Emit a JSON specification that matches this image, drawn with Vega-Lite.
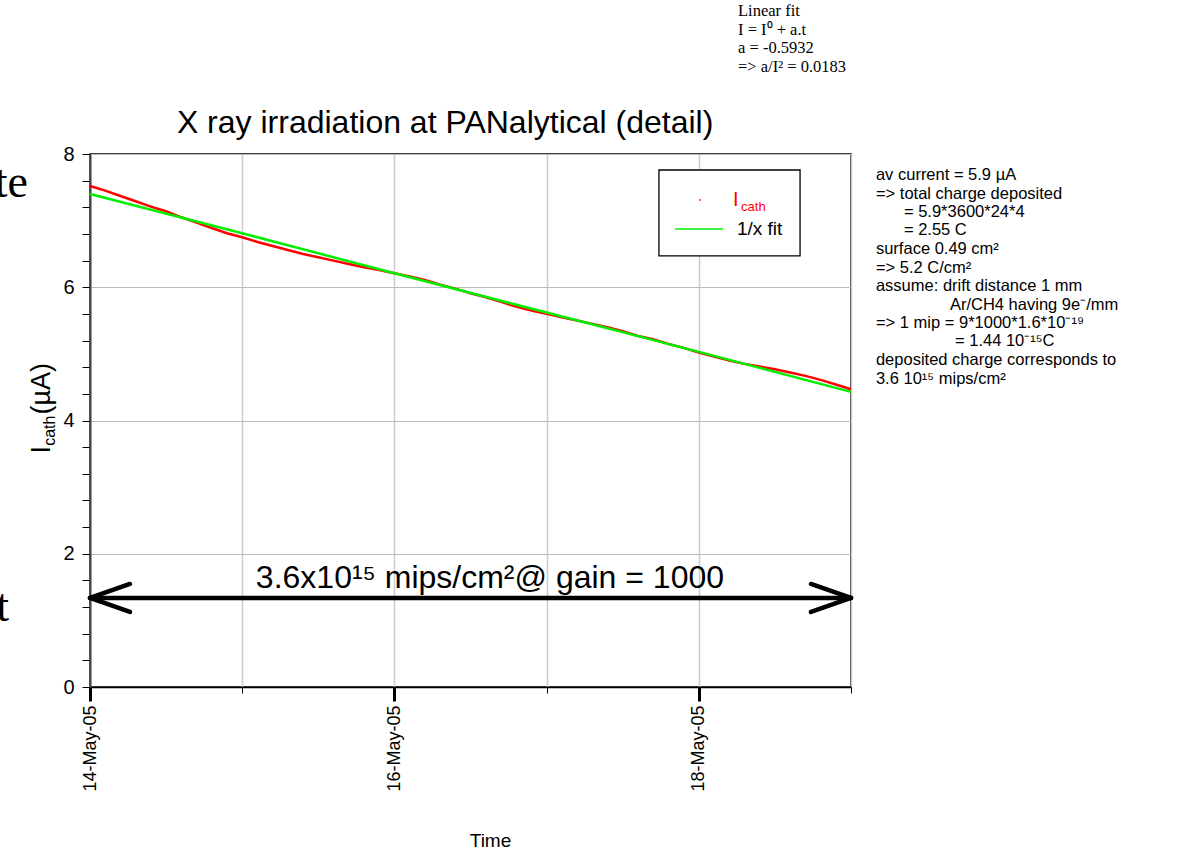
{
  "$schema": "https://vega.github.io/schema/vega-lite/v6.json",
  "width": 761,
  "height": 533,
  "autosize": {"type": "none"},
  "padding": {"left": 90, "top": 154, "right": 348, "bottom": 179},
  "background": "white",
  "config": {"view": {"stroke": "#000000", "strokeWidth": 1.5}, "font": "Liberation Sans"},
  "layer": [
    {
      "data": {"values": [
        {"time": "2005-05-14T00:00", "v": 7.52}, {"time": "2005-05-14T02:24", "v": 7.45}, {"time": "2005-05-14T04:48", "v": 7.37},
        {"time": "2005-05-14T07:12", "v": 7.29}, {"time": "2005-05-14T09:36", "v": 7.21}, {"time": "2005-05-14T12:00", "v": 7.14},
        {"time": "2005-05-14T14:24", "v": 7.05}, {"time": "2005-05-14T16:48", "v": 6.97}, {"time": "2005-05-14T19:12", "v": 6.89},
        {"time": "2005-05-14T21:36", "v": 6.81}, {"time": "2005-05-15T00:00", "v": 6.75}, {"time": "2005-05-15T02:24", "v": 6.68},
        {"time": "2005-05-15T04:48", "v": 6.62}, {"time": "2005-05-15T07:12", "v": 6.56}, {"time": "2005-05-15T09:36", "v": 6.50},
        {"time": "2005-05-15T12:00", "v": 6.45}, {"time": "2005-05-15T14:24", "v": 6.40}, {"time": "2005-05-15T16:48", "v": 6.35},
        {"time": "2005-05-15T19:12", "v": 6.30}, {"time": "2005-05-15T21:36", "v": 6.26}, {"time": "2005-05-16T00:00", "v": 6.21},
        {"time": "2005-05-16T02:24", "v": 6.16}, {"time": "2005-05-16T04:48", "v": 6.11}, {"time": "2005-05-16T07:12", "v": 6.04},
        {"time": "2005-05-16T09:36", "v": 5.98}, {"time": "2005-05-16T12:00", "v": 5.91}, {"time": "2005-05-16T14:24", "v": 5.85},
        {"time": "2005-05-16T16:48", "v": 5.78}, {"time": "2005-05-16T19:12", "v": 5.71}, {"time": "2005-05-16T21:36", "v": 5.65},
        {"time": "2005-05-17T00:00", "v": 5.60}, {"time": "2005-05-17T02:24", "v": 5.55}, {"time": "2005-05-17T04:48", "v": 5.50},
        {"time": "2005-05-17T07:12", "v": 5.45}, {"time": "2005-05-17T09:36", "v": 5.40}, {"time": "2005-05-17T12:00", "v": 5.34},
        {"time": "2005-05-17T14:24", "v": 5.27}, {"time": "2005-05-17T16:48", "v": 5.22}, {"time": "2005-05-17T19:12", "v": 5.15},
        {"time": "2005-05-17T21:36", "v": 5.09}, {"time": "2005-05-18T00:00", "v": 5.02}, {"time": "2005-05-18T02:24", "v": 4.96},
        {"time": "2005-05-18T04:48", "v": 4.90}, {"time": "2005-05-18T07:12", "v": 4.85}, {"time": "2005-05-18T09:36", "v": 4.81},
        {"time": "2005-05-18T12:00", "v": 4.77}, {"time": "2005-05-18T14:24", "v": 4.72}, {"time": "2005-05-18T16:48", "v": 4.67},
        {"time": "2005-05-18T19:12", "v": 4.61}, {"time": "2005-05-18T21:36", "v": 4.54}, {"time": "2005-05-19T00:00", "v": 4.47}
      ]},
      "mark": {"type": "line", "color": "#ff0000", "strokeWidth": 2.5},
      "encoding": {
        "x": {
          "field": "time", "type": "temporal",
          "scale": {"domain": [{"year": 2005, "month": 5, "date": 14}, {"year": 2005, "month": 5, "date": 19}]},
          "axis": {
            "title": "Time", "titleFont": "Liberation Sans", "titleFontSize": 19, "titleFontWeight": "normal", "titleColor": "#000000", "titlePadding": 40, "titleX": 400,
            "values": [{"year": 2005, "month": 5, "date": 14}, {"year": 2005, "month": 5, "date": 15}, {"year": 2005, "month": 5, "date": 16}, {"year": 2005, "month": 5, "date": 17}, {"year": 2005, "month": 5, "date": 18}, {"year": 2005, "month": 5, "date": 19}],
            "labelExpr": "date(datum.value) % 2 === 0 ? timeFormat(datum.value, '%d-%b-%y') : ''",
            "labelAngle": -90, "labelFontSize": 18, "labelColor": "#000000", "labelPadding": 4, "labelFlush": false, "labelOverlap": false, "labelBound": false,
            "tickColor": "#000000",
            "tickWidth": {"condition": {"test": "date(datum.value) % 2 === 0", "value": 3}, "value": 1},
            "tickSize": {"condition": {"test": "date(datum.value) % 2 === 0", "value": 14}, "value": 6},
            "domainColor": "#000000", "domainWidth": 1.5,
            "grid": true, "gridColor": "#cccccc", "gridWidth": 1.5
          }
        },
        "y": {
          "field": "v", "type": "quantitative",
          "scale": {"domain": [0, 8], "nice": false, "zero": false},
          "axis": {
            "title": null,
            "values": [0, 0.4, 0.8, 1.2, 1.6, 2, 2.4, 2.8, 3.2, 3.6, 4, 4.4, 4.8, 5.2, 5.6, 6, 6.4, 6.8, 7.2, 7.6, 8],
            "tickCount": 40,
            "tickMinStep": 0.1,
            "labelExpr": "datum.value % 2 === 0 ? toString(datum.value) : ''",
            "labelOverlap": false,
            "labelFontSize": 20, "labelColor": "#000000", "labelPadding": 8,
            "tickColor": "#000000", "tickSize": 8, "tickWidth": 1,
            "domainColor": "#444444", "domainWidth": 2,
            "grid": true, "gridColor": "#bbbbbb", "gridWidth": 1,
            "gridOpacity": {"condition": {"test": "datum.value % 2 === 0", "value": 1}, "value": 0}
          }
        }
      }
    },
    {
      "data": {"values": [
        {"time": "2005-05-14T00:00", "v": 7.40}, {"time": "2005-05-15T00:00", "v": 6.81}, {"time": "2005-05-16T00:00", "v": 6.21},
        {"time": "2005-05-17T00:00", "v": 5.62}, {"time": "2005-05-18T00:00", "v": 5.03}, {"time": "2005-05-19T00:00", "v": 4.43}
      ]},
      "mark": {"type": "line", "color": "#00ee00", "strokeWidth": 2.5},
      "encoding": {"x": {"field": "time", "type": "temporal"}, "y": {"field": "v", "type": "quantitative"}}
    },
    {
      "data": {"values": [{"time": "2005-05-17T17:43", "time2": "2005-05-18T15:58", "v": 7.76, "v2": 6.47}]},
      "mark": {"type": "rect", "fill": "#ffffff", "stroke": "#000000", "strokeWidth": 1.3},
      "encoding": {"x": {"field": "time", "type": "temporal"}, "x2": {"field": "time2"}, "y": {"field": "v", "type": "quantitative"}, "y2": {"field": "v2"}}
    },
    {
      "data": {"values": [
        {"time": "2005-05-17T20:15", "time2": "2005-05-18T03:49", "v": 6.874, "v2": 6.874}
      ]},
      "mark": {"type": "rule", "color": "#00ee00", "strokeWidth": 1.5},
      "encoding": {"x": {"field": "time", "type": "temporal"}, "x2": {"field": "time2"}, "y": {"field": "v", "type": "quantitative"}, "y2": {"field": "v2"}}
    },
    {
      "data": {"values": [{"time": "2005-05-18T00:11", "v": 7.31}]},
      "mark": {"type": "point", "filled": true, "color": "#ff0000", "size": 3, "opacity": 1},
      "encoding": {"x": {"field": "time", "type": "temporal"}, "y": {"field": "v", "type": "quantitative"}}
    },
    {
      "data": {"values": [{"time": "2005-05-18T05:24", "v": 7.22, "label": "I"}]},
      "mark": {"type": "text", "font": "Liberation Sans", "fontSize": 20, "color": "#ff0000", "align": "left", "baseline": "alphabetic"},
      "encoding": {"x": {"field": "time", "type": "temporal"}, "y": {"field": "v", "type": "quantitative"}, "text": {"field": "label"}}
    },
    {
      "data": {"values": [{"time": "2005-05-18T06:40", "v": 7.15, "label": "cath"}]},
      "mark": {"type": "text", "font": "Liberation Sans", "fontSize": 13, "color": "#ff0000", "align": "left", "baseline": "alphabetic"},
      "encoding": {"x": {"field": "time", "type": "temporal"}, "y": {"field": "v", "type": "quantitative"}, "text": {"field": "label"}}
    },
    {
      "data": {"values": [{"time": "2005-05-18T06:01", "v": 6.78, "label": "1/x fit"}]},
      "mark": {"type": "text", "font": "Liberation Sans", "fontSize": 19, "color": "#000000", "align": "left", "baseline": "alphabetic"},
      "encoding": {"x": {"field": "time", "type": "temporal"}, "y": {"field": "v", "type": "quantitative"}, "text": {"field": "label"}}
    },
    {
      "data": {"values": [
        {"time": "2005-05-14T00:00", "time2": "2005-05-19T00:00", "v": 1.336, "v2": 1.336},
        {"time": "2005-05-14T00:00", "time2": "2005-05-14T06:18", "v": 1.336, "v2": 1.546},
        {"time": "2005-05-14T00:00", "time2": "2005-05-14T06:18", "v": 1.336, "v2": 1.126},
        {"time": "2005-05-19T00:00", "time2": "2005-05-18T17:41", "v": 1.336, "v2": 1.546},
        {"time": "2005-05-19T00:00", "time2": "2005-05-18T17:41", "v": 1.336, "v2": 1.126}
      ]},
      "mark": {"type": "rule", "color": "#000000", "strokeWidth": 4.5, "strokeCap": "round"},
      "encoding": {"x": {"field": "time", "type": "temporal"}, "x2": {"field": "time2"}, "y": {"field": "v", "type": "quantitative"}, "y2": {"field": "v2"}}
    },
    {
      "data": {"values": [{"time": "2005-05-16T15:04", "v": 1.486, "label": "3.6x10¹⁵ mips/cm²@ gain = 1000"}]},
      "mark": {"type": "text", "font": "Liberation Sans", "fontSize": 32, "color": "#000000", "align": "center", "baseline": "alphabetic"},
      "encoding": {"x": {"field": "time", "type": "temporal"}, "y": {"field": "v", "type": "quantitative"}, "text": {"field": "label"}}
    },
    {
      "data": {"values": [{"time": "2005-05-16T08:00", "v": 8.315, "label": "X ray irradiation at PANalytical (detail)"}]},
      "mark": {"type": "text", "font": "Liberation Sans", "fontSize": 32, "color": "#000000", "align": "center", "baseline": "alphabetic"},
      "encoding": {"x": {"field": "time", "type": "temporal"}, "y": {"field": "v", "type": "quantitative"}, "text": {"field": "label"}}
    },
    {
      "data": {"values": [{"time": "2005-05-18T06:11", "v": 10.07, "label": "Linear fit\nI = I⁰ + a.t\na = -0.5932\n=> a/I² = 0.0183"}]},
      "mark": {"type": "text", "font": "Liberation Serif", "fontSize": 16.5, "color": "#000000", "align": "left", "baseline": "alphabetic", "lineBreak": "\n", "lineHeight": 18.7},
      "encoding": {"x": {"field": "time", "type": "temporal"}, "y": {"field": "v", "type": "quantitative"}, "text": {"field": "label"}}
    },
    {
      "data": {"values": [
        {"time": "2005-05-19T03:56", "v": 7.610, "label": "av current = 5.9 µA"},
        {"time": "2005-05-19T03:56", "v": 7.332, "label": "=> total charge deposited"},
        {"time": "2005-05-19T08:21", "v": 7.054, "label": "= 5.9*3600*24*4"},
        {"time": "2005-05-19T08:21", "v": 6.777, "label": "= 2.55 C"},
        {"time": "2005-05-19T03:56", "v": 6.499, "label": "surface 0.49 cm²"},
        {"time": "2005-05-19T03:56", "v": 6.221, "label": "=> 5.2 C/cm²"},
        {"time": "2005-05-19T03:56", "v": 5.944, "label": "assume: drift distance 1 mm"},
        {"time": "2005-05-19T15:36", "v": 5.666, "label": "Ar/CH4 having 9e⁻/mm"},
        {"time": "2005-05-19T03:56", "v": 5.388, "label": "=> 1 mip = 9*1000*1.6*10⁻¹⁹"},
        {"time": "2005-05-19T16:24", "v": 5.111, "label": "= 1.44 10⁻¹⁵C"},
        {"time": "2005-05-19T03:56", "v": 4.833, "label": "deposited charge corresponds to"},
        {"time": "2005-05-19T03:56", "v": 4.555, "label": "3.6 10¹⁵ mips/cm²"}
      ]},
      "mark": {"type": "text", "font": "Liberation Sans", "fontSize": 16.5, "color": "#000000", "align": "left", "baseline": "alphabetic"},
      "encoding": {"x": {"field": "time", "type": "temporal"}, "y": {"field": "v", "type": "quantitative"}, "text": {"field": "label"}}
    },
    {
      "data": {"values": [{"time": "2005-05-13T17:42", "v": 3.505, "label": "I"}, {"time": "2005-05-13T17:42", "v": 4.09, "label": "(µA)"}]},
      "mark": {"type": "text", "font": "Liberation Sans", "fontSize": 27, "color": "#000000", "align": "left", "baseline": "alphabetic", "angle": 270},
      "encoding": {"x": {"field": "time", "type": "temporal"}, "y": {"field": "v", "type": "quantitative"}, "text": {"field": "label"}}
    },
    {
      "data": {"values": [{"time": "2005-05-13T18:29", "v": 3.62, "label": "cath"}]},
      "mark": {"type": "text", "font": "Liberation Sans", "fontSize": 16, "color": "#000000", "align": "left", "baseline": "alphabetic", "angle": 270},
      "encoding": {"x": {"field": "time", "type": "temporal"}, "y": {"field": "v", "type": "quantitative"}, "text": {"field": "label"}}
    },
    {
      "data": {"values": [{"time": "2005-05-13T14:13", "v": 7.355, "label": "te"}, {"time": "2005-05-13T11:14", "v": 0.99, "label": "t"}]},
      "mark": {"type": "text", "font": "Liberation Serif", "fontSize": 46, "color": "#000000", "align": "right", "baseline": "alphabetic"},
      "encoding": {"x": {"field": "time", "type": "temporal"}, "y": {"field": "v", "type": "quantitative"}, "text": {"field": "label"}}
    }
  ]
}
